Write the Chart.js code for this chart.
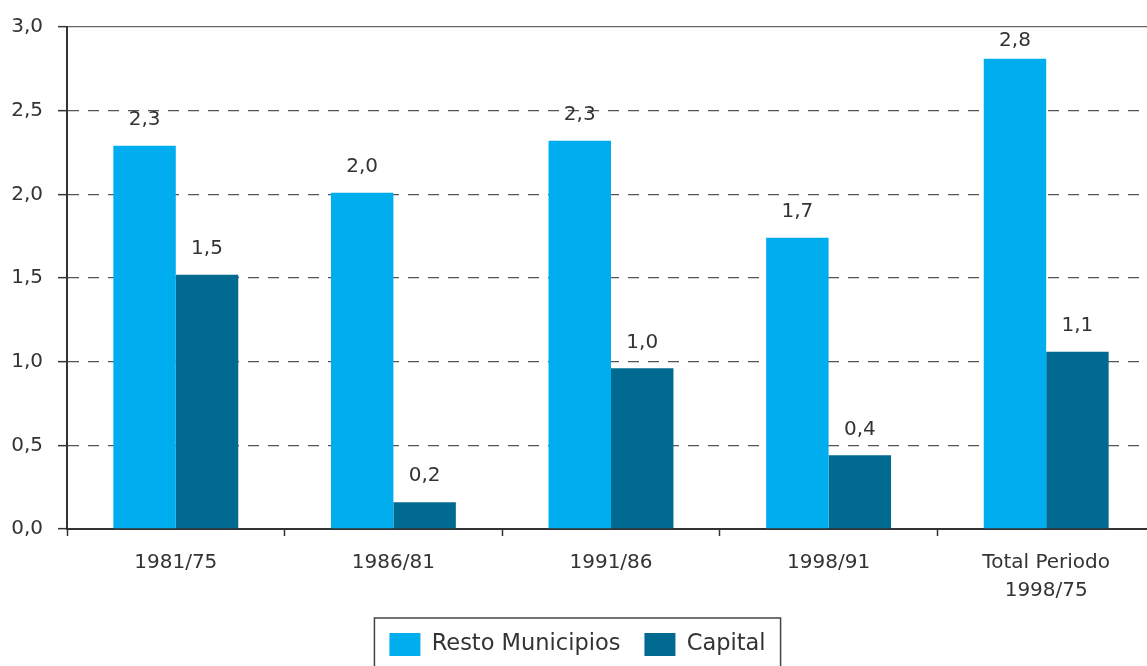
<!DOCTYPE html>
<html><head><meta charset="utf-8">
<script src="https://cdn.jsdelivr.net/npm/chart.js@4.4.0/dist/chart.umd.min.js"></script>
<style>html,body{margin:0;padding:0;background:#fff;overflow:hidden}#wrap{width:1147px;height:666px;overflow:hidden}</style>
</head><body><div id="wrap"><canvas id="c" width="1155" height="666"></canvas></div>
<script>
const categories = ['1981/75', '1986/81', '1991/86', '1998/91', ['Total Periodo', '1998/75']];
const restoMunicipios = [2.29, 2.01, 2.32, 1.74, 2.81];
const capital = [1.52, 0.16, 0.96, 0.44, 1.06];
const seriesNames = ['Resto Municipios', 'Capital'];
const yMin = 0, yMax = 3, yStep = 0.5;

const fmt = v => v.toFixed(1).replace('.', ',');
const TXT = '#333333';
const FONT = "'DejaVu Sans', sans-serif";

const dataLabels = {
  id: 'dataLabels',
  afterDatasetsDraw(chart) {
    const ctx = chart.ctx;
    ctx.save();
    ctx.font = "20px " + FONT;
    ctx.fillStyle = TXT;
    ctx.textAlign = 'center';
    ctx.textBaseline = 'middle';
    chart.data.datasets.forEach((ds, di) => {
      const meta = chart.getDatasetMeta(di);
      meta.data.forEach((el, i) => {
        const y = Math.max(el.y - 26, chart.chartArea.top + 14);
        ctx.fillText(fmt(ds.data[i]), el.x, y);
      });
    });
    ctx.restore();
  }
};

const legendBorder = {
  id: 'legendBorder',
  afterDraw(chart) {
    const hb = chart.legend.legendHitBoxes;
    if (!hb || !hb.length) return;
    const last = hb[hb.length - 1];
    const left = hb[0].left - 15;
    const right = last.left + last.width + 15;
    const top = hb[0].top - 15;
    const ctx = chart.ctx;
    ctx.save();
    ctx.strokeStyle = '#444';
    ctx.lineWidth = 1.5;
    ctx.strokeRect(left, top, right - left, chart.height - top + 10);
    ctx.restore();
  }
};

new Chart(document.getElementById('c'), {
  type: 'bar',
  data: {
    labels: categories,
    datasets: [
      { label: seriesNames[0], data: restoMunicipios, backgroundColor: '#00adee', categoryPercentage: 0.574, barPercentage: 1.0 },
      { label: seriesNames[1], data: capital, backgroundColor: '#006a91', categoryPercentage: 0.574, barPercentage: 1.0 }
    ]
  },
  options: {
    responsive: false,
    animation: false,
    devicePixelRatio: 1,
    layout: { padding: { top: 25, right: 0, bottom: 0, left: 0 } },
    plugins: {
      tooltip: { enabled: false },
      legend: {
        position: 'bottom',
        labels: { boxWidth: 31, boxHeight: 23, padding: 24, color: TXT, font: { family: FONT, size: 22.5 } }
      }
    },
    scales: {
      x: {
        afterFit(s) { s.height = 80; },
        grid: { display: true, drawOnChartArea: false, offset: true, tickLength: 7, tickColor: '#333', tickWidth: 1.5 },
        border: { display: true, color: '#333', width: 2 },
        ticks: { color: TXT, padding: 13, font: { family: FONT, size: 20, lineHeight: 1.4 }, maxRotation: 0 }
      },
      y: {
        min: yMin, max: yMax,
        afterFit(s) { s.width = 67; },
        grid: { color: ctx => (ctx.tick && ctx.tick.value === yMax) ? '#666' : '#555', lineWidth: 1.3, tickLength: 9, tickColor: '#333', tickWidth: 1.5 },
        border: { display: true, color: '#333', width: 2, dash: ctx => (ctx.tick && ctx.tick.value === yMax) ? [] : [11, 9] },
        ticks: { stepSize: yStep, color: TXT, padding: 15, font: { family: FONT, size: 20 }, callback: v => fmt(v) }
      }
    }
  },
  plugins: [dataLabels, legendBorder]
});
</script></body></html>
